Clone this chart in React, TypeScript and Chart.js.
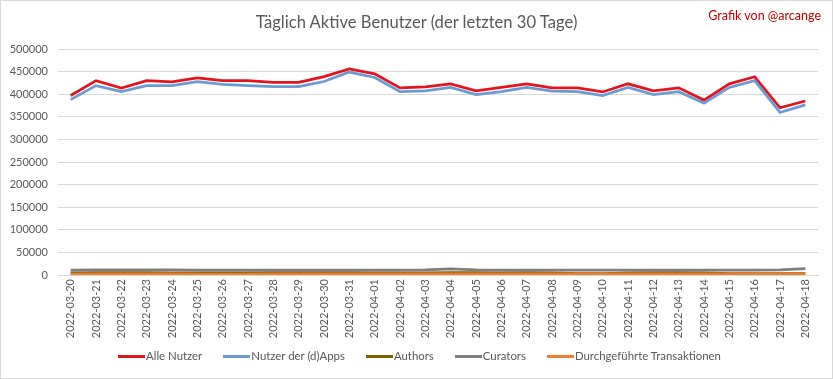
import React, { useEffect, useRef } from "react";
import { Chart, registerables } from "chart.js";

Chart.register(...registerables);

const labels = [
  "2022-03-20", "2022-03-21", "2022-03-22", "2022-03-23", "2022-03-24", "2022-03-25",
  "2022-03-26", "2022-03-27", "2022-03-28", "2022-03-29", "2022-03-30", "2022-03-31",
  "2022-04-01", "2022-04-02", "2022-04-03", "2022-04-04", "2022-04-05", "2022-04-06",
  "2022-04-07", "2022-04-08", "2022-04-09", "2022-04-10", "2022-04-11", "2022-04-12",
  "2022-04-13", "2022-04-14", "2022-04-15", "2022-04-16", "2022-04-17", "2022-04-18",
];

const alleNutzer = [
  397000, 430000, 413500, 430000, 427500, 436000, 430000, 430000, 426000, 426000,
  439000, 456000, 445000, 414000, 416000, 423000, 407500, 415000, 423000, 414000,
  414000, 405000, 423000, 407500, 414000, 387000, 423000, 438500, 370000, 385000,
];

const dappsNutzer = [
  388000, 419000, 406000, 419000, 419000, 428000, 421500, 419000, 417000, 417000,
  428000, 449000, 437000, 405500, 407500, 415000, 399000, 405500, 415000, 407000,
  405500, 397000, 415000, 399000, 405500, 380000, 415000, 430000, 359500, 376500,
];

const authors = [
  4500, 5000, 5000, 5000, 4500, 4500, 4500, 4500, 5000, 5000,
  5000, 5000, 4500, 4500, 4500, 5000, 5000, 4500, 5000, 4500,
  3000, 3000, 4500, 5000, 5000, 4500, 3000, 3000, 3000, 3000,
];

const curators = [
  11000, 11500, 11500, 11500, 11500, 11000, 11000, 11000, 11000, 11000,
  11000, 11000, 11000, 11000, 11500, 13500, 11500, 11000, 11000, 11000,
  11000, 11000, 11000, 11000, 11000, 11000, 11000, 11000, 11500, 14000,
];

const transaktionen = [
  2000, 2500, 2500, 2500, 2500, 2000, 2000, 2000, 2500, 2500,
  2500, 2500, 2500, 2500, 2500, 2500, 2500, 2500, 2500, 2500,
  2500, 2500, 2500, 2500, 2500, 2500, 2500, 2500, 2500, 2500,
];

const yTicks = [0, 50000, 100000, 150000, 200000, 250000, 300000, 350000, 400000, 450000, 500000];

const seriesNames = ["Alle Nutzer", "Nutzer der (d)Apps", "Authors", "Curators", "Durchgeführte Transaktionen"];
const seriesColors = ["#e3141c", "#6a9bd3", "#7f6000", "#7f7f7f", "#ed7d31"];

const FONT = "Lato, 'Open Sans', sans-serif";

export default function App() {
  const ref = useRef<HTMLCanvasElement>(null);

  useEffect(() => {
    const values = [alleNutzer, dappsNutzer, authors, curators, transaktionen];
    const chart = new Chart(ref.current!, {
      type: "line",
      data: {
        labels,
        datasets: values.map((d, i) => ({
          label: seriesNames[i],
          data: d,
          borderColor: seriesColors[i],
          backgroundColor: seriesColors[i],
          borderWidth: 2.75,
          pointRadius: 0,
          tension: 0,
          fill: false,
          order: 4 - i,
        })),
      },
      options: {
        animation: false,
        responsive: false,
        layout: { padding: { top: 49, right: 15, left: 0, bottom: 0 } },
        plugins: { legend: { display: false }, tooltip: { enabled: false }, title: { display: false } },
        scales: {
          x: {
            offset: true,
            grid: { display: false, drawTicks: false },
            border: { display: true, color: "#d9d9d9", width: 1 },
            ticks: {
              autoSkip: false,
              maxRotation: 90,
              minRotation: 90,
              color: "#595959",
              font: { family: FONT, size: 11 },
              padding: 4,
            },
            afterFit: (s: any) => {
              s.height = 104;
            },
          },
          y: {
            min: 0,
            max: 500000,
            afterBuildTicks: (s: any) => {
              s.ticks = yTicks.map((v) => ({ value: v }));
            },
            ticks: {
              callback: (v: any) => String(v),
              color: "#595959",
              font: { family: FONT, size: 11 },
              padding: 10,
            },
            grid: { color: "#d9d9d9", drawTicks: false, lineWidth: 1 },
            border: { display: false },
            afterFit: (s: any) => {
              s.width = 58;
            },
          },
        },
      },
    });
    return () => chart.destroy();
  }, []);

  return (
    <div
      style={{
        position: "fixed",
        left: 0,
        top: 0,
        width: 833,
        height: 379,
        background: "#fff",
        fontFamily: FONT,
      }}
    >
      <canvas ref={ref} width={833} height={379} style={{ position: "absolute", left: 0, top: 0 }} />
      <div
        style={{
          position: "absolute",
          left: 0,
          top: 0,
          width: 833,
          height: 379,
          border: "1px solid #d9d9d9",
          boxSizing: "border-box",
          pointerEvents: "none",
        }}
      />
      <div
        style={{
          position: "absolute",
          left: 0,
          width: 833,
          top: 11,
          textAlign: "center",
          fontSize: 16.6,
          color: "#595959",
          lineHeight: "22px",
        }}
      >
        Täglich Aktive Benutzer (der letzten 30 Tage)
      </div>
      <div
        style={{
          position: "absolute",
          right: 12,
          top: 8,
          fontSize: 12.5,
          color: "#c00000",
          lineHeight: "16px",
        }}
      >
        Grafik von @arcange
      </div>
      <div
        style={{
          position: "absolute",
          left: 0,
          width: 839,
          top: 349,
          display: "flex",
          justifyContent: "center",
          alignItems: "center",
          gap: 21,
          fontSize: 11.4,
          color: "#595959",
          lineHeight: "14px",
        }}
      >
        {seriesNames.map((n, i) => (
          <div key={n} style={{ display: "flex", alignItems: "center" }}>
            <span style={{ display: "inline-block", width: 27, height: 3, background: seriesColors[i], marginRight: 1 }} />
            <span>{n}</span>
          </div>
        ))}
      </div>
    </div>
  );
}
